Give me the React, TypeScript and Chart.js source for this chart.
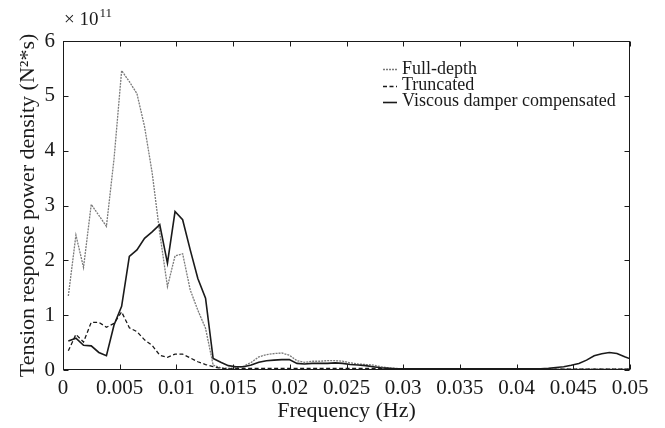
import React, { useEffect, useRef } from "react";
import { Chart, registerables } from "chart.js";

Chart.register(...registerables);

// Frequency samples (Hz)
const freq = [
  0.00047, 0.00114, 0.00181, 0.00249, 0.00316, 0.00383, 0.0045, 0.00517, 0.00585, 0.00652,
  0.00719, 0.00786, 0.00853, 0.00921, 0.00988, 0.01055, 0.01122, 0.01189, 0.01257, 0.01324,
  0.01391, 0.01458, 0.01525, 0.01593, 0.0166, 0.01727, 0.01794, 0.01861, 0.01929, 0.01996,
  0.02063, 0.0213, 0.02197, 0.02265, 0.02332, 0.02399, 0.02466, 0.02533, 0.02601, 0.02668,
  0.02735, 0.02802, 0.02869, 0.02937, 0.03004, 0.03071, 0.03138, 0.03205, 0.03273, 0.0334,
  0.03407, 0.03474, 0.03541, 0.03609, 0.03676, 0.03743, 0.0381, 0.03877, 0.03945, 0.04012,
  0.04079, 0.04146, 0.04213, 0.04281, 0.04348, 0.04415, 0.04482, 0.04549, 0.04617, 0.04684,
  0.04751, 0.04818, 0.04885, 0.04953, 0.0502,
];

// Power density values in units of 1e11 N^2*s
const fullDepth = [
  1.35, 2.46, 1.87, 3.02, 2.82, 2.62, 3.85, 5.46, 5.26, 5.04,
  4.44, 3.6, 2.5, 1.52, 2.08, 2.12, 1.46, 1.09, 0.76, 0.09,
  0.04, 0.03, 0.04, 0.07, 0.14, 0.24, 0.28, 0.3, 0.31, 0.27,
  0.17, 0.14, 0.16, 0.16, 0.17, 0.17, 0.16, 0.13, 0.11, 0.1,
  0.09, 0.06, 0.04, 0.03, 0.02, 0.02, 0.02, 0.02, 0.02, 0.02,
  0.02, 0.02, 0.02, 0.02, 0.02, 0.02, 0.02, 0.02, 0.02, 0.02,
  0.02, 0.02, 0.02, 0.02, 0.02, 0.02, 0.02, 0.02, 0.02, 0.02,
  0.02, 0.02, 0.02, 0.02, 0.02,
];

const truncated = [
  0.35, 0.65, 0.51, 0.87, 0.87, 0.78, 0.85, 1.06, 0.77, 0.7,
  0.55, 0.45, 0.27, 0.23, 0.29, 0.29, 0.22, 0.15, 0.1, 0.06,
  0.03, 0.02, 0.03, 0.03, 0.03, 0.03, 0.03, 0.03, 0.03, 0.03,
  0.03, 0.03, 0.03, 0.03, 0.03, 0.03, 0.03, 0.03, 0.03, 0.03,
  0.03, 0.03, 0.03, 0.015, 0.015, 0.015, 0.015, 0.015, 0.015, 0.015,
  0.015, 0.015, 0.015, 0.015, 0.015, 0.015, 0.015, 0.015, 0.015, 0.015,
  0.015, 0.015, 0.015, 0.015, 0.015, 0.015, 0.015, 0.015, 0.015, 0.015,
  0.015, 0.015, 0.015, 0.015, 0.015,
];

const viscous = [
  0.53, 0.58, 0.45, 0.44, 0.32, 0.26, 0.82, 1.16, 2.07, 2.19,
  2.4, 2.52, 2.65, 1.95, 2.89, 2.74, 2.19, 1.67, 1.31, 0.21,
  0.14, 0.08, 0.06, 0.06, 0.09, 0.14, 0.17, 0.18, 0.19, 0.19,
  0.12, 0.11, 0.12, 0.12, 0.12, 0.13, 0.12, 0.1, 0.09, 0.08,
  0.06, 0.04, 0.03, 0.02, 0.02, 0.02, 0.02, 0.02, 0.02, 0.02,
  0.02, 0.02, 0.02, 0.02, 0.02, 0.02, 0.02, 0.02, 0.02, 0.02,
  0.02, 0.02, 0.02, 0.03, 0.045, 0.06, 0.085, 0.12, 0.18, 0.26,
  0.295, 0.32, 0.3, 0.24, 0.19,
];

const seriesLabels = ["Full-depth", "Truncated", "Viscous damper compensated"];
const xTitle = "Frequency (Hz)";
const yTitle = "Tension response power density (N²*s)";
const exponentBase = "× 10";
const exponentPower = "11";

const FONT = "'Liberation Serif', 'Times New Roman', serif";
const INK = "#1a1a1a";
const GRAY = "#7a7a7a";

const styles = [
  { color: GRAY, dash: [2, 1], width: 1.3 },
  { color: INK, dash: [4, 2.5], width: 1.3 },
  { color: INK, dash: [] as number[], width: 1.6 },
];

const framePlugin = {
  id: "matlabFrame",
  afterDatasetsDraw(chart: any) {
    const { ctx, chartArea: a, scales } = chart;
    const L = Math.round(a.left) + 0.5;
    const R = Math.round(a.right) - 0.5;
    const T = Math.round(a.top) + 0.5;
    const B = Math.round(a.bottom) - 0.5;
    ctx.save();
    ctx.setLineDash([]);
    ctx.strokeStyle = INK;
    ctx.lineWidth = 1;
    ctx.strokeRect(L, T, R - L, B - T);
    const tl = 5;
    ctx.beginPath();
    for (const t of scales.x.ticks) {
      const px = Math.round(scales.x.getPixelForValue(t.value)) + 0.5;
      ctx.moveTo(px, B);
      ctx.lineTo(px, B - tl);
      ctx.moveTo(px, T);
      ctx.lineTo(px, T + tl);
    }
    for (const t of scales.y.ticks) {
      const py = Math.round(scales.y.getPixelForValue(t.value)) + 0.5;
      ctx.moveTo(L, py);
      ctx.lineTo(L + tl, py);
      ctx.moveTo(R, py);
      ctx.lineTo(R - tl, py);
    }
    ctx.stroke();

    // legend
    const lx0 = a.right - 247;
    const lx1 = a.right - 233;
    const tx = a.right - 228;
    const rows = [a.top + 28, a.top + 44.7, a.top + 60.7];
    ctx.font = `18px ${FONT}`;
    ctx.textBaseline = "middle";
    ctx.textAlign = "left";
    seriesLabels.forEach((lab, i) => {
      const s = styles[i];
      ctx.beginPath();
      ctx.setLineDash(s.dash);
      ctx.strokeStyle = s.color;
      ctx.lineWidth = s.width;
      ctx.moveTo(lx0, Math.round(rows[i]) + 0.5);
      ctx.lineTo(lx1, Math.round(rows[i]) + 0.5);
      ctx.stroke();
      ctx.setLineDash([]);
      ctx.fillStyle = INK;
      ctx.fillText(lab, tx, rows[i]);
    });

    // exponent label
    ctx.textBaseline = "alphabetic";
    ctx.font = `19px ${FONT}`;
    ctx.fillText(exponentBase, a.left + 1, a.top - 16);
    const w = ctx.measureText(exponentBase).width;
    ctx.font = `13px ${FONT}`;
    ctx.fillText(exponentPower, a.left + 2 + w, a.top - 24);
    ctx.restore();
  },
};

export default function App() {
  const ref = useRef<HTMLCanvasElement>(null);
  useEffect(() => {
    const mk = (vals: number[]) => vals.map((v, i) => ({ x: freq[i], y: v }));
    const data = [fullDepth, truncated, viscous];
    const chart = new Chart(ref.current!, {
      type: "line",
      data: {
        datasets: data.map((vals, i) => ({
          label: seriesLabels[i],
          data: mk(vals),
          borderColor: styles[i].color,
          borderDash: styles[i].dash,
          borderWidth: styles[i].width,
          pointRadius: 0,
          tension: 0,
          fill: false,
          order: 3 - i,
        })),
      },
      options: {
        animation: false,
        responsive: false,
        devicePixelRatio: 1,
        layout: { padding: { left: 0, right: 35, top: 41, bottom: 0 } },
        plugins: { legend: { display: false }, tooltip: { enabled: false } },
        scales: {
          x: {
            type: "linear",
            min: 0,
            max: 0.05,
            afterFit: (s: any) => {
              s.height = 58;
            },
            ticks: {
              stepSize: 0.005,
              autoSkip: false,
              maxRotation: 0,
              padding: 6,
              color: INK,
              font: { family: FONT, size: 21 },
              callback: (v: any) => String(Number(Number(v).toFixed(3))),
            },
            grid: { display: false, drawTicks: false },
            border: { display: false },
            title: {
              display: true,
              text: xTitle,
              color: INK,
              font: { family: FONT, size: 22 },
              padding: { top: 0, bottom: 4 },
            },
          },
          y: {
            min: 0,
            max: 6,
            afterFit: (s: any) => {
              s.width = 63;
            },
            ticks: {
              stepSize: 1,
              padding: 8,
              color: INK,
              font: { family: FONT, size: 21 },
              callback: (v: any) => String(v),
            },
            grid: { display: false, drawTicks: false },
            border: { display: false },
            title: {
              display: true,
              text: yTitle,
              color: INK,
              font: { family: FONT, size: 22 },
              padding: { top: 15, bottom: 0 },
            },
          },
        },
      },
      plugins: [framePlugin],
    } as any);
    return () => chart.destroy();
  }, []);
  return (
    <div style={{ position: "fixed", left: 0, top: 0, width: 665, height: 428, background: "#fff" }}>
      <canvas ref={ref} width={665} height={428} style={{ width: 665, height: 428, display: "block" }} />
    </div>
  );
}
